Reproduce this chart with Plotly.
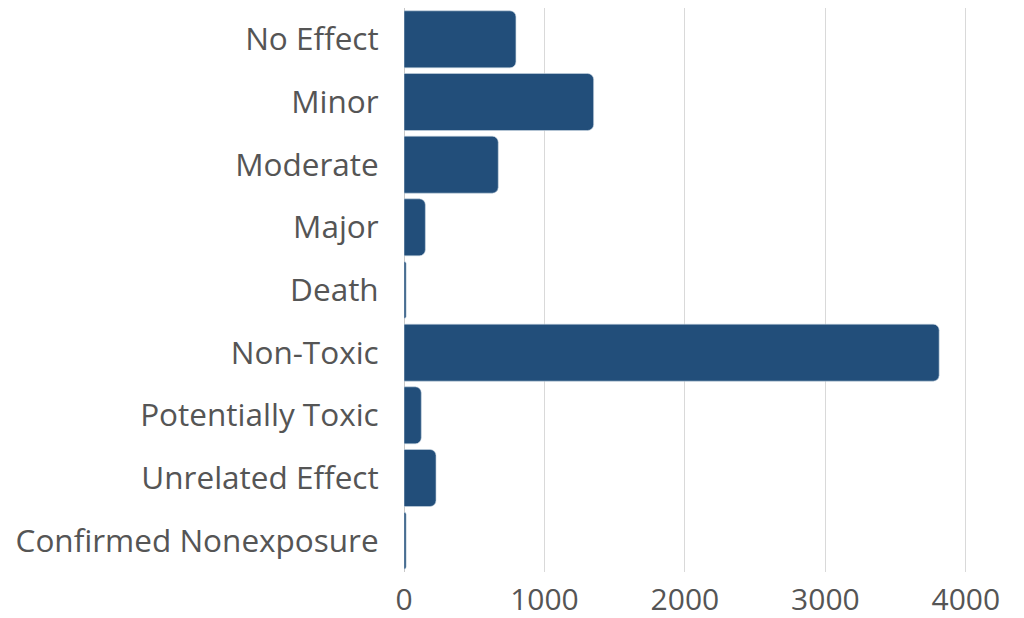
import plotly.graph_objects as go

categories = ["No Effect", "Minor", "Moderate", "Major", "Death", "Non-Toxic",
              "Potentially Toxic", "Unrelated Effect", "Confirmed Nonexposure"]
values = [797, 1350, 671, 152, 15, 3810, 123, 228, 15]
x_ticks = [0, 1000, 2000, 3000, 4000]

fig = go.Figure(go.Bar(
    y=categories, x=values, orientation="h",
    marker=dict(color="#224e7a", line=dict(color="#c9d6e3", width=0.6), cornerradius=6),
))

fig.update_layout(
    width=1024, height=618,
    margin=dict(l=404, r=16, t=8, b=46, autoexpand=False),
    paper_bgcolor="white", plot_bgcolor="white",
    bargap=0.09,
    font=dict(family="Open Sans, sans-serif", size=31, color="#555555"),
    showlegend=False,
)
fig.update_xaxes(range=[0, 4300], tickvals=x_ticks, showgrid=True, gridcolor="#d9d9d9",
                 gridwidth=1, zeroline=True, zerolinecolor="#c8c8c8", zerolinewidth=1,
                 showline=False, ticks="outside", ticklen=1, tickcolor="white",
                 tickfont=dict(size=30), automargin=False)
fig.update_yaxes(autorange="reversed", showgrid=False, showline=False,
                 ticks="outside", ticklen=18, tickcolor="white",
                 tickfont=dict(size=31.5), automargin=False)

fig.write_html("out.html", config={"displayModeBar": False},
               post_script="document.body.style.margin='0';document.body.style.overflow='hidden';")
